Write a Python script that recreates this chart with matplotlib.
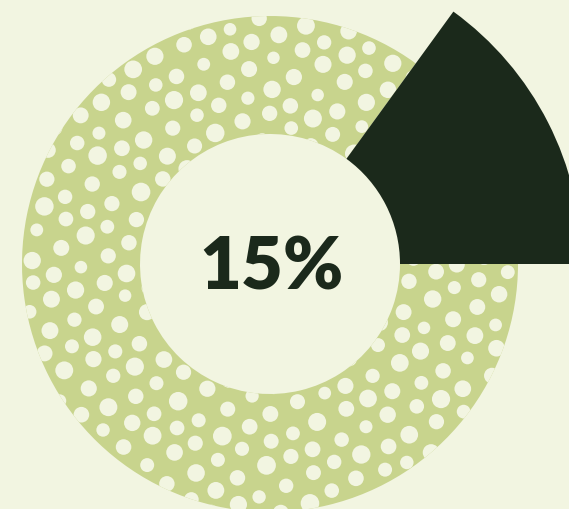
import matplotlib
matplotlib.use("Agg")
import matplotlib.pyplot as plt
import numpy as np
from matplotlib.patches import Circle
from matplotlib.collections import PatchCollection

# Data
labels = ["Highlighted", "Rest"]
values = [15, 85]
center_label = "15%"

BG = "#f2f5e1"
GREEN = "#c8d48d"
DARK = "#1b291b"

fig = plt.figure(figsize=(5.69, 5.10), dpi=100)
fig.patch.set_facecolor(BG)
ax = fig.add_axes([0, 0, 1, 1])
ax.set_facecolor(BG)

cx, cy = 270, 245
r_out, r_in, r_hi = 248, 130, 312

wedges, _ = ax.pie(values, colors=[DARK, GREEN], startangle=0, counterclock=True,
                   center=(cx, cy), radius=r_out,
                   wedgeprops=dict(width=r_out - r_in, linewidth=0),
                   frame=True)
ax.set_xlim(0, 569)
ax.set_ylim(0, 510)
ax.set_aspect("equal")
ax.axis("off")
wedges[0].set_radius(r_hi)
wedges[0].set_width(r_hi - r_in)
wedges[0].set_zorder(3)

# Dot texture on the green ring (decorative, rotated lattice)
sp = 27.0
th = np.deg2rad(22)
dots = []
n = int(2 * r_out / sp) + 4
for i in range(-n, n + 1):
    for j in range(-n, n + 1):
        u = (i + 0.5 * (j % 2)) * sp
        v = j * sp * 0.866
        x = cx + u * np.cos(th) - v * np.sin(th)
        y = cy + u * np.sin(th) + v * np.cos(th)
        d = np.hypot(x - cx, y - cy)
        if d > r_out + 12 or d < r_in - 12:
            continue
        rr = 7.8 + 1.6 * np.sin(1.7 * i + 2.3 * j) * np.cos(0.9 * i - 1.1 * j)
        dx = 2.5 * np.sin(2.1 * i + 0.7 * j)
        dy = 2.5 * np.cos(1.3 * i + 1.9 * j)
        dots.append(Circle((x + dx, y + dy), rr))
pc = PatchCollection(dots, facecolor=BG, edgecolor="none", zorder=2)
ax.add_collection(pc)
pc.set_clip_path(wedges[1])

ax.text(cx + 2, cy - 3, center_label, ha="center", va="center",
        fontsize=52, fontweight="heavy", color=DARK, family=["Lato", "DejaVu Sans"])

fig.savefig("out.png", dpi=100, facecolor=BG)
